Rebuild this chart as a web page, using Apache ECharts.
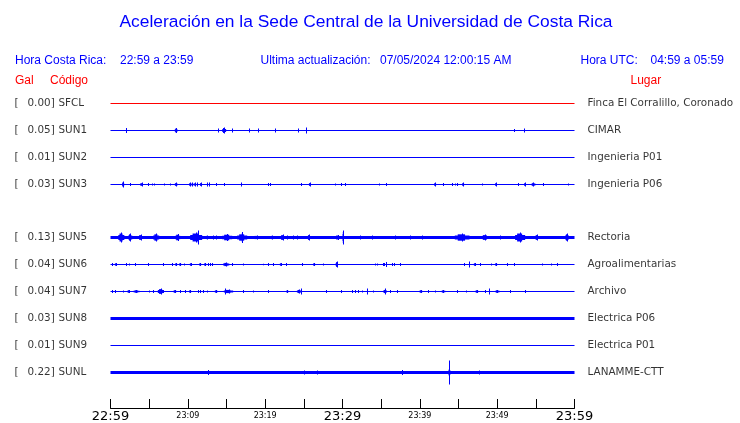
<!DOCTYPE html>
<html><head><meta charset="utf-8">
<script src="https://cdn.jsdelivr.net/npm/echarts@6/dist/echarts.min.js"></script>
<style>html,body{margin:0;padding:0;background:#fff}#c{width:740px;height:423px}</style>
</head><body><div id="c"></div>
<script>
// ---- data ----
const codes  = ['SFCL','SUN1','SUN2','SUN3','','SUN5','SUN6','SUN7','SUN8','SUN9','SUNL'];
const gal    = ['0.00','0.05','0.01','0.03','','0.13','0.04','0.04','0.03','0.01','0.22'];
const places = ['Finca El Corralillo, Coronado','CIMAR','Ingenieria P01','Ingenieria P06','',
                'Rectoria','Agroalimentarias','Archivo','Electrica P06','Electrica P01','LANAMME-CTT'];
const tickMinutes = [0,10,20,30,40,50,60];
const tickLabels  = ['22:59','23:09','23:19','23:29','23:39','23:49','23:59'];
const majorLabels = ['22:59','23:29','23:59'];
const titleText = 'Aceleración en la Sede Central de la Universidad de Costa Rica';
const hdrLocal = ['Hora Costa Rica:', '22:59 a 23:59'];
const hdrUpdate = ['Ultima actualización:', '07/05/2024 12:00:15 AM'];
const hdrUtc = ['Hora UTC:', '04:59 a 05:59'];
const traceStart = 0, traceEnd = 60; // minutes after 22:59

// events: [minute after 22:59, relative amplitude, duration (min)]
const evSUN1 = [[1.94,2.5,0],[8.49,2.5,0.35],[13.96,2,0],[14.70,3,0.5],[15.70,2,0],[17.97,2,0],
  [19.13,2,0],[21.33,2,0],[24.23,2,0],[25.26,3,0],[52.23,1.5,0],[53.52,2,0]];
const evSUN3 = [[1.64,3,0.25],[2.55,1.5,0],[3.75,1,0],[4.06,2,0.25],[4.83,1.5,0],[5.35,1,0],[5.65,1,0],
  [6.98,1,0],[7.72,1,0],[8.49,2,0.35],[10.30,2,0.25],[10.60,2,0.25],[10.95,2,0.25],[11.17,2,0],
  [11.69,2,0.25],[12.46,2,0],[12.76,2,0],[13.63,1.5,0],[14.70,1.5,0],[16.90,2,0],[20.43,1.5,0],
  [20.65,1.5,0],[24.65,1.5,0],[25.78,2,0.25],[29.01,1,0],[29.79,1.5,0],[30.38,1.5,0],[34.74,1,0],
  [35.68,1.5,0],[41.98,2,0.25],[43.05,1.5,0],[44.21,1.5,0],[44.52,1,0],[44.86,1.5,0],[45.60,2,0.25],
  [48.09,1,0],[49.86,2,0.25],[52.75,1.5,0],[53.61,2,0.25],[54.69,2,0.5],[55.90,1.5,0],[59.13,1,0]];
const evSUN5 = [[1.40,5,0.78],[2.55,4,0.52],[3.90,3,0.65],[5.91,4,0.78],[8.69,3.5,0.65],[11.08,5,1.55],
  [11.34,7,0.15],[12.44,2,0.4],[13.28,2,0],[13.67,2,0],[15.09,3.5,1.3],[17.03,4,1.3],[17.03,5.5,0.15],
  [18.90,2,0.9],[20.84,2,0.4],[22.26,3,0.65],[22.84,2,0],[23.62,2,0],[24.14,2,0],[25.69,3,0.52],
  [29.37,2.5,0.65],[30.08,7,0.13],[32.28,2,0],[33.83,2,0],[36.81,2,0],[38.75,2,0],[40.30,2,0],
  [45.47,4,1.9],[48.44,3,1.0],[50.38,2,0],[52.97,5,1.3],[55.16,3,0.6],[59.04,4,0.5]];
const evSUN6 = [[0.18,1.5,0],[0.70,1.5,0.3],[2.03,1.5,0],[2.42,1,0],[3.19,1.5,0],[4.91,1.5,0],[6.85,1.5,0],
  [7.94,1.5,0],[8.49,1.5,0.3],[9.01,1.5,0.3],[9.44,1,0],[10.39,1.5,0.3],[11.60,1.5,0.3],[12.24,1.5,0.3],
  [12.67,1.5,0],[12.89,1.5,0],[13.15,1.5,0],[14.96,2,0.8],[15.70,1.5,0],[17.12,1,0],[19.78,0.7,0],
  [20.35,1.5,0],[21.07,1.5,0],[22.03,1.5,0.3],[22.68,1.5,0],[24.74,1.5,0],[26.33,1.5,0.3],[27.46,1,0],
  [29.27,3,0.3],[34.22,1,0],[34.44,1,0],[35.22,1.5,0],[35.42,1.5,0],[35.64,2.5,0],[36.38,1.5,0],
  [36.72,1.5,0],[37.45,1.5,0],[45.77,1.5,0],[46.37,3,0],[47.11,1.5,0.3],[47.80,1.5,0],[49.18,1,0],
  [49.86,1.5,0.3],[51.33,1.5,0],[52.23,1.5,0],[55.77,1,0],[56.94,1,0],[57.71,1.5,0]];
const evSUN7 = [[0.18,1.5,0],[0.61,1.5,0],[1.68,1,0],[2.33,1.5,0.3],[3.36,1.5,0.8],[5.04,1,0],[5.56,1.5,0],
  [6.52,3,0.8],[8.32,1.5,0.4],[9.01,1.5,0],[9.66,1.5,0],[10.30,1.5,0.3],[11.25,1.5,0],[11.60,1.5,0],
  [12.02,1.5,0],[12.46,1,0],[13.67,1.5,0.4],[15.26,2,1.2],[14.83,3,0],[17.12,1.5,0],[18.49,1,0],
  [20.35,1.5,0],[22.88,1.5,0.3],[24.40,2,0.6],[24.65,3,0],[27.89,1.5,0],[29.79,1.5,0],[31.21,1.5,0],
  [31.64,1.5,0],[32.06,1.5,0],[32.50,1,0],[33.15,3,0],[34.00,1,0],[35.51,2,0.5],[35.51,3,0],
  [36.16,1.5,0],[37.03,1.5,0],[40.13,1.5,0.4],[41.11,1.5,0],[41.98,1,0],[43.05,1.5,0.5],[44.78,1.5,0],
  [45.95,1,0],[47.37,1.5,0.4],[48.44,1.5,0],[49.00,3,0],[50.03,1.5,0.6],[51.67,1.5,0],[53.61,1.5,0]];
const evSUNL = [[12.67,2.5,0],[25.08,2,0],[26.76,2,0],[37.75,2.5,0],[43.83,12,0],[43.83,4,0.3],[47.71,2,0]];
const stationEvents = {SUN1: evSUN1, SUN3: evSUN3, SUN5: evSUN5, SUN6: evSUN6, SUN7: evSUN7, SUNL: evSUNL};

// ---- styles ----
const BLUE = '#0000ff', RED = '#ff0000';
const traceWidth = {SFCL:1, SUN1:1, SUN2:1, SUN3:1, SUN5:3, SUN6:1, SUN7:1, SUN8:3, SUN9:1, SUNL:3};
const AMP_SCALE = 1/27; // relative amplitude -> row units
const FONT = 'DejaVu Sans';
const HFONT = 'Liberation Sans';

const chart = echarts.init(document.getElementById('c'), null, {renderer:'canvas'});
const snapY = y => Math.floor(y) + 0.5;

const series = [];

// baselines (one item per station)
const baseData = [];
codes.forEach((c, row) => { if (c) baseData.push([traceStart, row, traceEnd]); });
series.push({
  type:'custom', silent:true, data: baseData,
  renderItem: (params, api) => {
    const row = api.value(1);
    const c = codes[row];
    const a = api.coord([api.value(0), row]);
    const b = api.coord([api.value(2), row]);
    const w = traceWidth[c];
    const y = snapY(a[1]);
    return {type:'rect', shape:{x:a[0], y:y - w/2, width:b[0]-a[0], height:w},
            style:{fill: c === 'SFCL' ? RED : BLUE}};
  }
});

// bursts
const burstData = [];
codes.forEach((c, row) => {
  (stationEvents[c] || []).forEach(e => burstData.push([e[0], row, e[1], e[2]]));
});
series.push({
  type:'custom', silent:true,
  data: burstData,
  renderItem: (params, api) => {
    const t = api.value(0), row = api.value(1), amp = api.value(2), dur = api.value(3);
    const top = api.coord([t, row - amp*AMP_SCALE]);
    const bot = api.coord([t, row + amp*AMP_SCALE]);
    const cx = Math.round(top[0]) + 0.5;
    const cy = snapY((top[1] + bot[1]) / 2);
    const hh = (bot[1] - top[1]) / 2;
    const spike = {type:'rect', shape:{x:cx-0.5, y:cy-hh, width:1, height:2*hh}, style:{fill:BLUE}};
    if (dur <= 0) return spike;
    const l = api.coord([t - dur/2, row])[0];
    const r = api.coord([t + dur/2, row])[0];
    const w = r - l;
    return {type:'group', children:[
      {type:'rect', shape:{x:l, y:cy-hh*0.5, width:w, height:hh}, style:{fill:BLUE}},
      {type:'rect', shape:{x:l+w*0.2, y:cy-hh*0.8, width:w*0.5, height:hh*1.6}, style:{fill:BLUE}},
      spike
    ]};
  }
});

// row labels
const labelData = [];
codes.forEach((c, row) => {
  if (!c) return;
  labelData.push({value:[traceStart,row], label:{formatter:'{a|[}{b|' + gal[row] + ']}{c|' + c + '}', offset:[-96,0]}});
  labelData.push({value:[traceEnd,row], label:{formatter:places[row], offset:[13,0]}});
});
series.push({
  type:'scatter', silent:true, symbolSize:0, data:labelData,
  label:{show:true, position:'inside', align:'left', verticalAlign:'middle', color:'#000',
    fontFamily:FONT, fontSize:10.4,
    rich:{a:{width:13, fontFamily:FONT, fontSize:10.4, color:'#000'},
          b:{width:31, fontFamily:FONT, fontSize:10.4, color:'#000'},
          c:{fontFamily:FONT, fontSize:10.4, color:'#000'}}}
});

const hText = (txt, x, y, color, size, align) => ({
  type:'text', x:x, y:y, silent:true,
  style:{text:txt, fill:color, font: size + 'px "' + HFONT + '"', textAlign:align||'left', textVerticalAlign:'middle'}
});

chart.setOption({
  animation:false,
  backgroundColor:'#fff',
  grid:{left:110.5, right:165.5, top:76.5, bottom:13.5, containLabel:false},
  xAxis:{type:'value', min:0, max:60, interval:5, position:'bottom',
    axisLine:{show:true, onZero:false, lineStyle:{color:'#000', width:1}},
    axisTick:{show:true, inside:true, length:9, lineStyle:{color:'#000'}},
    splitLine:{show:false},
    axisLabel:{show:true, margin:2, showMinLabel:true, showMaxLabel:true, hideOverlap:false,
      formatter: v => {
        const i = tickMinutes.indexOf(v);
        if (i < 0) return '';
        const s = tickLabels[i];
        return majorLabels.includes(s) ? '{b|' + s + '}' : '{s|' + s + '}';
      },
      rich:{b:{fontFamily:FONT, fontSize:13, color:'#000'},
            s:{fontFamily:FONT, fontSize:8, color:'#000', padding:[2,0,0,0]}}}
  },
  yAxis:{type:'value', inverse:true, min:-1, max:34/3, show:false},
  graphic:[
    hText(titleText, 366, 22, BLUE, 17.4, 'center'),
    hText(hdrLocal[0], 15, 61, BLUE, 12),
    hText(hdrLocal[1], 120, 61, BLUE, 12),
    hText(hdrUpdate[0], 260.5, 61, BLUE, 12),
    hText(hdrUpdate[1], 380, 61, BLUE, 12),
    hText(hdrUtc[0], 580.5, 61, BLUE, 12),
    hText(hdrUtc[1], 650.5, 61, BLUE, 12),
    hText('Gal', 15, 81, RED, 12),
    hText('Código', 50, 81, RED, 12),
    hText('Lugar', 630.5, 81, RED, 12)
  ],
  series: series
});
</script></body></html>
